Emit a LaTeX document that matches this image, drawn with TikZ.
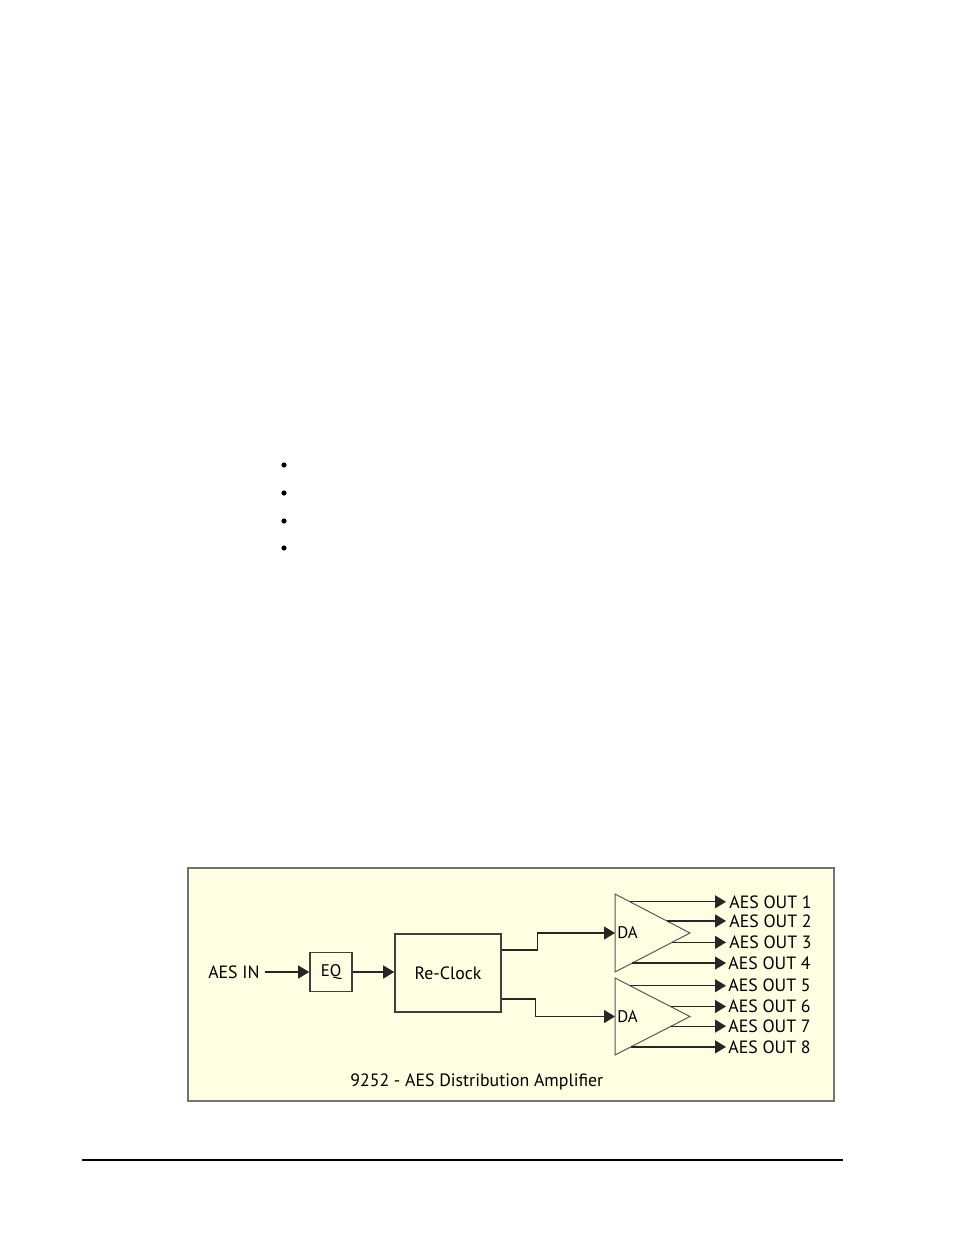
\documentclass[tikz,border=0pt]{standalone}
\usepackage{fontspec}
\setmainfont{PT Sans}
\usetikzlibrary{arrows.meta,calc}
\definecolor{panel}{RGB}{255,253,226}

\begin{document}
\begin{tikzpicture}[x=0.5pt,y=-0.5pt,
  blk/.style={draw=black!75,line width=0.8pt,inner sep=0pt},
  amp/.style={draw=black!65,line width=0.5pt},
  arr/.style={draw=black!85,line width=0.6pt,-{Triangle[length=5.5pt,width=6.5pt]}},
  lbl/.style={font=\fontsize{8.9}{11}\selectfont,inner sep=0pt},
  sml/.style={font=\fontsize{8.4}{10}\selectfont,inner sep=1pt}]
\def\xamp{615};
\def\xtip{690};
\def\xout{726};

\useasboundingbox (0,0) rectangle (954,1235);

% list bullets and page rule
\fill (284,465) circle (2.6);
\fill (284,493) circle (2.6);
\fill (284,521) circle (2.6);
\fill (284,548) circle (2.6);
\draw[line width=0.6pt] (82,1160) -- (843,1160);

% panel
\draw[draw=black!55,fill=panel,line width=0.6pt] (188,868) rectangle (834,1101);

\node[lbl,anchor=east] (in) at (260,972) {AES IN};
\node[blk,minimum width=21pt,minimum height=19.5pt] (eq) at (331,972) {\fontsize{8.4}{10}\selectfont EQ};
\node[blk,minimum width=53pt,minimum height=39pt,font=\fontsize{8.9}{11}\selectfont] (rc) at (448,973) {Re-Clock};
\draw[arr] ([xshift=2.5pt]in.east) -- (eq.west);
\draw[arr] (eq.east) -- (rc.west |- eq.east);

% amplifiers
\coordinate (t1) at (\xamp,894);
\coordinate (p1) at (\xtip,933);
\coordinate (b1) at (\xamp,972);
\draw[amp] (t1) -- (p1) -- (b1) -- cycle;
\node[sml,anchor=west] (da1) at ($(t1)!0.5!(b1)$) {DA};

\coordinate (t2) at (\xamp,978);
\coordinate (p2) at (\xtip,1016.5);
\coordinate (b2) at (\xamp,1055);
\draw[amp] (t2) -- (p2) -- (b2) -- cycle;
\node[sml,anchor=west] (da2) at ($(t2)!0.5!(b2)$) {DA};

\draw[arr] ([yshift=11.5pt]rc.east) -- ++(18pt,0) |- (da1.west);
\draw[arr] ([yshift=-13pt]rc.east) -- ++(17pt,0) |- (da2.west);

% outputs
\coordinate (rx) at (\xout,0);
\coordinate (s1) at ($(t1)!0.2!(p1)$);
\coordinate (s2) at ($(t1)!0.69!(p1)$);
\coordinate (s3) at ($(b1)!0.76!(p1)$);
\coordinate (s4) at ($(b1)!0.23!(p1)$);
\coordinate (s5) at ($(t2)!0.2!(p2)$);
\coordinate (s6) at ($(t2)!0.74!(p2)$);
\coordinate (s7) at ($(b2)!0.75!(p2)$);
\coordinate (s8) at ($(b2)!0.21!(p2)$);

\node[lbl,anchor=west] (o1) at ([xshift=1.5pt]s1 -| rx) {AES OUT 1};
\node[lbl,anchor=west] (o2) at ([xshift=1.5pt]s2 -| rx) {AES OUT 2};
\node[lbl,anchor=west] (o3) at ([xshift=1.5pt]s3 -| rx) {AES OUT 3};
\node[lbl,anchor=west] (o4) at ([xshift=1pt]s4 -| rx) {AES OUT 4};
\node[lbl,anchor=west] (o5) at ([xshift=1pt]s5 -| rx) {AES OUT 5};
\node[lbl,anchor=west] (o6) at ([xshift=1pt]s6 -| rx) {AES OUT 6};
\node[lbl,anchor=west] (o7) at ([xshift=1pt]s7 -| rx) {AES OUT 7};
\node[lbl,anchor=west] (o8) at ([xshift=1pt]s8 -| rx) {AES OUT 8};

\draw[arr] (s1) -- (s1 -| rx);
\draw[arr] (s2) -- (s2 -| rx);
\draw[arr] (s3) -- (s3 -| rx);
\draw[arr] (s4) -- (s4 -| rx);
\draw[arr] (s5) -- (s5 -| rx);
\draw[arr] (s6) -- (s6 -| rx);
\draw[arr] (s7) -- (s7 -| rx);
\draw[arr] (s8) -- (s8 -| rx);

\node[lbl,anchor=west] (cap) at (350,1082) {9252 - AES Distribution Amplifier};
\end{tikzpicture}
\end{document}
